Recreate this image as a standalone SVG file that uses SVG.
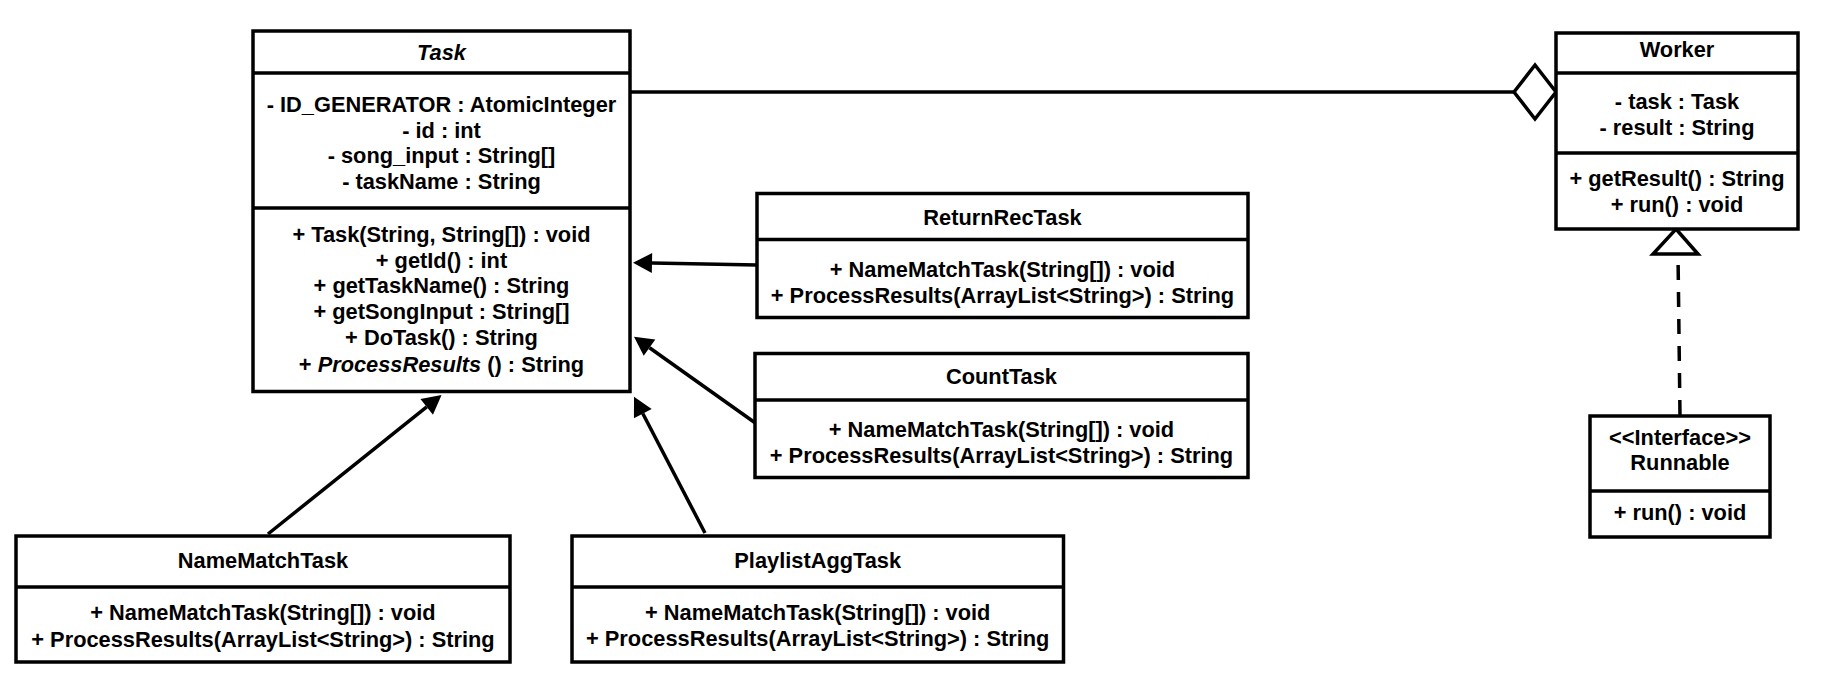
<svg xmlns="http://www.w3.org/2000/svg" width="1839" height="684" viewBox="0 0 1839 684">
<style>
.box{fill:#fff;stroke:#000;stroke-width:3.5}
.sep{stroke:#000;stroke-width:3.5}
.edge{fill:none;stroke:#000;stroke-width:3.5}
text{font-family:"Liberation Sans",Arial,Helvetica,sans-serif;font-weight:bold;font-size:21.8px;fill:#000;text-anchor:middle}
.it{font-style:italic}
</style>
<defs>
<marker id="arrow" markerUnits="userSpaceOnUse" markerWidth="19" markerHeight="20" viewBox="0 0 19 20" refX="0" refY="10" orient="auto" overflow="visible">
<path d="M0,0 L19,10 L0,20 Z" fill="#000"/>
</marker>
</defs>
<rect width="1839" height="684" fill="#fff"/>
<g id="connectors">
<line class="edge" x1="630" y1="92" x2="1514" y2="92"/>
<polygon class="box" points="1514,92 1535,65 1556,92 1535,119"/>
<line class="edge" x1="757" y1="265" x2="652" y2="263.05" marker-end="url(#arrow)"/>
<line class="edge" x1="755" y1="422.7" x2="649.5" y2="347.7" marker-end="url(#arrow)"/>
<line class="edge" x1="268" y1="534" x2="426.7" y2="406.9" marker-end="url(#arrow)"/>
<line class="edge" x1="705" y1="533" x2="642.8" y2="413.55" marker-end="url(#arrow)"/>
<line class="edge" x1="1678" y1="254" x2="1680" y2="416" stroke-dasharray="15 12" stroke-dashoffset="16"/>
<polygon class="box" points="1676,229 1698,254 1653,254"/>
</g>
<g id="task">
<rect class="box" x="253" y="31" width="377" height="360.5"/>
<line class="sep" x1="253" y1="73" x2="630" y2="73"/>
<line class="sep" x1="253" y1="208" x2="630" y2="208"/>
<text x="441.5" y="60" class="it">Task</text>
<text x="441.5" y="111.7">- ID_GENERATOR : AtomicInteger</text>
<text x="441.5" y="137.5">- id : int</text>
<text x="441.5" y="163.3">- song_input : String[]</text>
<text x="441.5" y="189.3">- taskName : String</text>
<text x="441.5" y="241.7">+ Task(String, String[]) : void</text>
<text x="441.5" y="267.5">+ getId() : int</text>
<text x="441.5" y="293.3">+ getTaskName() : String</text>
<text x="441.5" y="319.3">+ getSongInput : String[]</text>
<text x="441.5" y="345.2">+ DoTask() : String</text>
<text x="441.5" y="371.5">+ <tspan class="it">ProcessResults</tspan> () : String</text>
</g>
<g id="returnrectask">
<rect class="box" x="757" y="193.5" width="491" height="124"/>
<line class="sep" x1="757" y1="239.5" x2="1248" y2="239.5"/>
<text x="1002.5" y="225">ReturnRecTask</text>
<text x="1002.5" y="277">+ NameMatchTask(String[]) : void</text>
<text x="1002.5" y="303.3">+ ProcessResults(ArrayList&lt;String&gt;) : String</text>
</g>
<g id="counttask">
<rect class="box" x="755" y="353.5" width="493" height="124"/>
<line class="sep" x1="755" y1="400" x2="1248" y2="400"/>
<text x="1001.5" y="384">CountTask</text>
<text x="1001.5" y="436.7">+ NameMatchTask(String[]) : void</text>
<text x="1001.5" y="462.7">+ ProcessResults(ArrayList&lt;String&gt;) : String</text>
</g>
<g id="namematchtask">
<rect class="box" x="16" y="536" width="494" height="126"/>
<line class="sep" x1="16" y1="587" x2="510" y2="587"/>
<text x="263" y="568">NameMatchTask</text>
<text x="263" y="620">+ NameMatchTask(String[]) : void</text>
<text x="263" y="646.5">+ ProcessResults(ArrayList&lt;String&gt;) : String</text>
</g>
<g id="playlistaggtask">
<rect class="box" x="572" y="536" width="491.5" height="126"/>
<line class="sep" x1="572" y1="587" x2="1063.5" y2="587"/>
<text x="817.7" y="567.5">PlaylistAggTask</text>
<text x="817.7" y="619.5">+ NameMatchTask(String[]) : void</text>
<text x="817.7" y="646">+ ProcessResults(ArrayList&lt;String&gt;) : String</text>
</g>
<g id="worker">
<rect class="box" x="1556" y="33" width="242" height="196"/>
<line class="sep" x1="1556" y1="73" x2="1798" y2="73"/>
<line class="sep" x1="1556" y1="153" x2="1798" y2="153"/>
<text x="1677" y="57.3">Worker</text>
<text x="1677" y="108.5">- task : Task</text>
<text x="1677" y="135">- result : String</text>
<text x="1677" y="185.5">+ getResult() : String</text>
<text x="1677" y="211.5">+ run() : void</text>
</g>
<g id="runnable">
<rect class="box" x="1590" y="416" width="180" height="121"/>
<line class="sep" x1="1590" y1="491" x2="1770" y2="491"/>
<text x="1680" y="445">&lt;&lt;Interface&gt;&gt;</text>
<text x="1680" y="470">Runnable</text>
<text x="1680" y="520">+ run() : void</text>
</g>
</svg>
